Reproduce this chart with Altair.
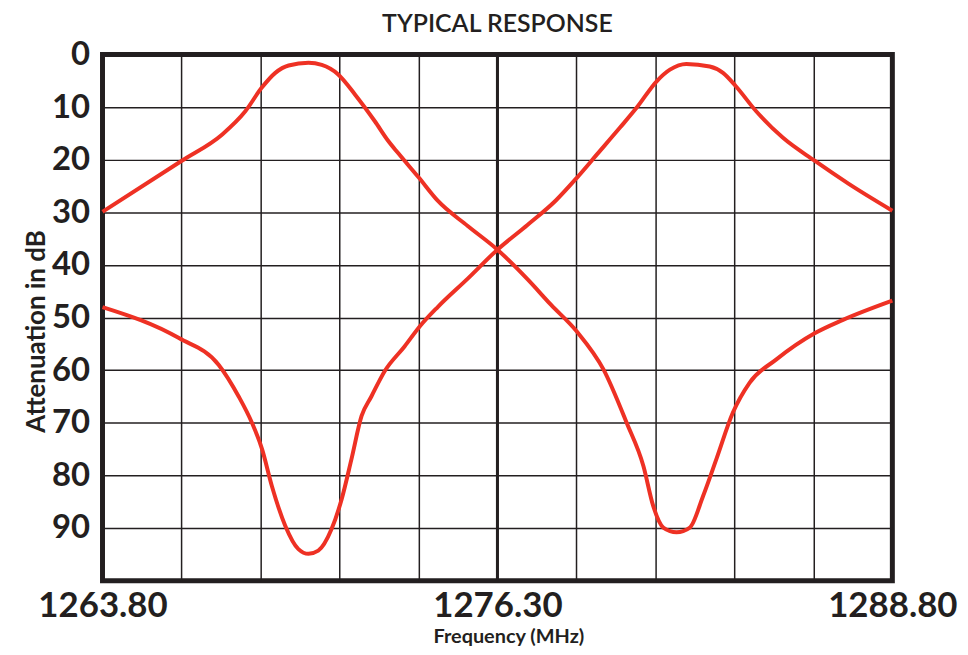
import altair as alt
import pandas as pd

title_text = "TYPICAL RESPONSE"
x_title = "Frequency (MHz)"
y_title = "Attenuation in dB"

# Curve A: passband near 1270.3 MHz, notch near 1282 MHz
freq_a = [1263.80, 1266.31, 1267.59, 1268.32, 1268.83, 1269.27, 1269.69, 1270.32,
          1270.74, 1271.26, 1271.79, 1272.42, 1272.84, 1273.15, 1273.81, 1274.41,
          1275.36, 1276.30, 1277.25, 1278.00, 1278.82, 1279.66, 1280.39, 1280.92,
          1281.23, 1281.55, 1281.97, 1282.39, 1282.81, 1283.23, 1283.75, 1284.28,
          1285.12, 1286.34, 1287.22, 1288.80]
atten_a = [29.9, 20.2, 15.2, 10.8, 6.4, 3.5, 2.1, 1.6,
           2.0, 3.8, 7.6, 12.7, 16.4, 18.7, 23.4, 27.8,
           32.6, 37.1, 42.7, 47.6, 52.7, 59.9, 70.0, 78.2,
           85.8, 89.9, 90.8, 89.9, 83.9, 76.9, 68.1, 62.4,
           58.0, 53.0, 50.5, 46.8]

# Curve B: notch near 1270.3 MHz, passband near 1282.3 MHz
freq_b = [1263.80, 1266.22, 1267.48, 1268.11, 1268.53, 1268.85, 1269.16, 1269.58,
          1270.00, 1270.32, 1270.63, 1271.05, 1271.37, 1271.68, 1272.00, 1272.31,
          1272.73, 1273.36, 1273.84, 1274.41, 1275.36, 1276.30, 1277.25, 1278.14,
          1278.82, 1279.45, 1280.18, 1280.71, 1281.34, 1281.76, 1282.28, 1283.02,
          1283.44, 1283.84, 1284.49, 1285.33, 1286.34, 1287.42, 1288.80]
atten_b = [48.0, 53.9, 59.0, 65.0, 70.0, 75.0, 82.0, 89.5,
           94.0, 94.9, 94.3, 90.2, 84.5, 76.9, 68.7, 65.0,
           60.2, 55.5, 51.7, 48.0, 42.6, 37.1, 32.4, 27.8,
           23.4, 19.0, 13.9, 10.1, 5.1, 2.9, 1.8, 2.3,
           3.5, 6.0, 10.8, 15.8, 20.2, 24.6, 29.7]

x_labels = ["1263.80", "1276.30", "1288.80"]
grid_x = [1263.8, 1266.3, 1268.8, 1271.3, 1273.8, 1276.3, 1278.8, 1281.3, 1283.8, 1286.3, 1288.8]
grid_y = [0, 10, 20, 30, 40, 50, 60, 70, 80, 90]
center_x = [1276.3]

INK = "#231f20"
RED = "#EE3124"
FONT = "Lato"

df = pd.DataFrame({
    "freq": freq_a + freq_b,
    "atten": atten_a + atten_b,
    "curve": ["A"] * len(freq_a) + ["B"] * len(freq_b),
})
df_center = pd.DataFrame({"freq": center_x})

x_scale = alt.Scale(domain=[1263.8, 1288.8], nice=False, zero=False)
y_scale = alt.Scale(domain=[0, 100], reverse=True, nice=False, zero=False)

label_list = "[" + ",".join("'" + s + "'" for s in x_labels) + "]"
x_axis = alt.Axis(
    values=grid_x,
    labelExpr=f"indexof({label_list}, format(datum.value, '.2f')) >= 0 ? format(datum.value, '.2f') : ''",
    title=x_title,
    grid=True, domain=False, ticks=False, tickSize=0,
    gridColor=INK, gridWidth=1.5, gridOpacity=1,
    labelFont=FONT, labelFontSize=35, labelFontWeight="bold", labelColor=INK,
    labelBaseline="alphabetic", labelPadding=36, labelOverlap=False, labelFlush=False,
    labelBound=False,
    titleFont=FONT, titleFontSize=20, titleFontWeight="bold", titleColor=INK,
    titleBaseline="alphabetic", titleX=408, titleY=62, titleAlign="center",
)
y_axis = alt.Axis(
    values=grid_y,
    title=y_title,
    grid=True, domain=False, ticks=False, tickSize=0,
    gridColor=INK, gridWidth=1.5, gridOpacity=1,
    labelFont=FONT, labelFontSize=33, labelFontWeight="bold", labelColor=INK,
    labelPadding=13, labelOverlap=False, labelBound=False,
    titleFont=FONT, titleFontSize=26, titleFontWeight="bold", titleColor=INK,
    titleAngle=270, titleBaseline="alphabetic", titleX=-58, titleY=278, titleAlign="center",
)

center = alt.Chart(df_center).mark_rule(color=INK, strokeWidth=3).encode(
    x=alt.X("freq:Q", scale=x_scale, axis=x_axis),
)

lines = alt.Chart(df).mark_line(color=RED, strokeWidth=4, interpolate="monotone").encode(
    x=alt.X("freq:Q", scale=x_scale, axis=x_axis),
    y=alt.Y("atten:Q", scale=y_scale, axis=y_axis),
    detail="curve:N",
)

chart = alt.layer(center, lines).properties(
    width=794,
    height=529,
    title=alt.TitleParams(
        text=title_text, font=FONT, fontSize=25, fontWeight=600, color=INK,
        anchor="middle", baseline="alphabetic", offset=5, dy=23,
    ),
    padding={"left": 95, "top": 45, "right": 68, "bottom": 65},
    autosize="none",
    background="white",
).configure(
    view=alt.ViewConfig(stroke=INK, strokeWidth=5, fill="white"),
)

chart.save("out.html", embed_options={"renderer": "svg", "actions": False})
